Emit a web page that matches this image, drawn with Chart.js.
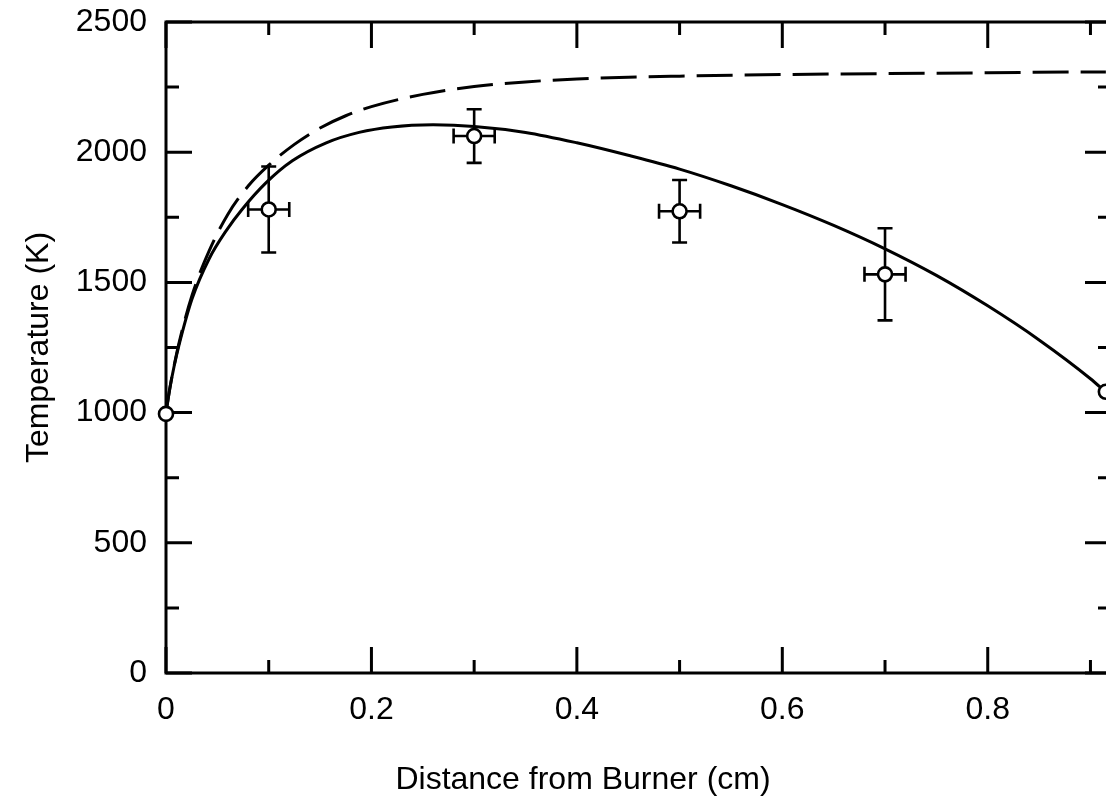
<!DOCTYPE html>
<html><head><meta charset="utf-8">
<script src="https://cdn.jsdelivr.net/npm/chart.js@4.4.1/dist/chart.umd.min.js"></script>
<style>
html,body{margin:0;padding:0;background:#fff;overflow:hidden;}
#wrap{position:relative;width:1125px;height:799px;}
</style></head><body>
<div id="wrap"><canvas id="c"></canvas></div>
<script>
// Measured points (open circles with error bars)
const measDistance = [0, 0.1, 0.3, 0.5, 0.7, 0.915];
const measTemperature = [995, 1780, 2062, 1773, 1531, 1080];
const measTempErr = [0, 165, 103, 120, 177, 0];
const measDistErr = [0, 0.02, 0.02, 0.02, 0.02, 0];

// Solid model curve
const solidX = [0, 0.004, 0.008, 0.0127, 0.0253, 0.0419, 0.0585, 0.074, 0.0975, 0.123, 0.156, 0.188, 0.22, 0.26, 0.3, 0.35, 0.4, 0.45, 0.5, 0.55, 0.6, 0.65, 0.7, 0.75, 0.8, 0.85, 0.9, 0.915];
const solidT = [1000, 1098, 1180, 1260, 1436, 1590, 1698, 1780, 1883, 1967, 2036, 2076, 2097, 2105, 2099, 2076, 2036, 1988, 1935, 1871, 1799, 1719, 1629, 1527, 1410, 1279, 1130, 1078];

// Dashed model curve
const dashedX = [0, 0.004, 0.008, 0.0127, 0.0253, 0.0419, 0.06, 0.08, 0.1, 0.125, 0.15, 0.175, 0.2, 0.25, 0.3, 0.35, 0.4, 0.45, 0.5, 0.6, 0.7, 0.8, 0.9, 0.915];
const dashedT = [1000, 1100, 1182, 1268, 1450, 1620, 1760, 1870, 1950, 2030, 2093, 2140, 2175, 2222, 2252, 2270, 2281, 2288, 2292, 2298, 2302, 2305, 2308, 2308];

// Axes
const xTickValues = [0, 0.2, 0.4, 0.6, 0.8];
const xMinorValues = [0.1, 0.3, 0.5, 0.7, 0.9];
const yTickValues = [0, 500, 1000, 1500, 2000, 2500];
const yMinorValues = [250, 750, 1250, 1750, 2250];
const xMax = 0.92;
const yMax = 2500;
const xTitle = 'Distance from Burner (cm)';
const yTitle = 'Temperature (K)';

const FONT = '"Liberation Sans", Arial, Helvetica, sans-serif';
Chart.defaults.font.family = FONT;
Chart.defaults.font.size = 32;
Chart.defaults.color = '#000';

const toXY = (xs, ys) => xs.map((v, i) => ({x: v, y: ys[i]}));

const frameTicks = {
  id: 'frameTicks',
  beforeDatasetsDraw(chart) {
    const {ctx, chartArea: a, scales: {x, y}} = chart;
    ctx.save();
    ctx.strokeStyle = '#000';
    ctx.lineWidth = 3;
    ctx.strokeRect(a.left, a.top, a.right - a.left, a.bottom - a.top);
    const major = 26, minor = 13;
    ctx.beginPath();
    const xt = (vals, len) => vals.forEach(v => {
      const p = x.getPixelForValue(v);
      ctx.moveTo(p, a.bottom); ctx.lineTo(p, a.bottom - len);
      ctx.moveTo(p, a.top); ctx.lineTo(p, a.top + len);
    });
    const yt = (vals, len) => vals.forEach(v => {
      const p = y.getPixelForValue(v);
      ctx.moveTo(a.left, p); ctx.lineTo(a.left + len, p);
      ctx.moveTo(a.right, p); ctx.lineTo(a.right - len, p);
    });
    xt(xTickValues, major); xt(xMinorValues, minor);
    yt(yTickValues, major); yt(yMinorValues, minor);
    ctx.stroke();
    ctx.restore();
  }
};

const errorBars = {
  id: 'errorBars',
  beforeDatasetDraw(chart, args) {
    if (args.index !== 0) return;
    const {ctx, scales: {x, y}} = chart;
    ctx.save();
    ctx.strokeStyle = '#000';
    ctx.lineWidth = 2.6;
    const cap = 7.5;
    ctx.beginPath();
    measDistance.forEach((d, i) => {
      const px = x.getPixelForValue(d), py = y.getPixelForValue(measTemperature[i]);
      if (measTempErr[i] > 0) {
        const t = y.getPixelForValue(measTemperature[i] + measTempErr[i]);
        const b = y.getPixelForValue(measTemperature[i] - measTempErr[i]);
        ctx.moveTo(px, t); ctx.lineTo(px, b);
        ctx.moveTo(px - cap, t); ctx.lineTo(px + cap, t);
        ctx.moveTo(px - cap, b); ctx.lineTo(px + cap, b);
      }
      if (measDistErr[i] > 0) {
        const l = x.getPixelForValue(d - measDistErr[i]);
        const r = x.getPixelForValue(d + measDistErr[i]);
        ctx.moveTo(l, py); ctx.lineTo(r, py);
        ctx.moveTo(l, py - cap); ctx.lineTo(l, py + cap);
        ctx.moveTo(r, py - cap); ctx.lineTo(r, py + cap);
      }
    });
    ctx.stroke();
    ctx.restore();
  }
};

const xAxisTitle = {
  id: 'xAxisTitle',
  afterDraw(chart) {
    const {ctx, chartArea: a} = chart;
    ctx.save();
    ctx.font = '32px ' + FONT;
    ctx.fillStyle = '#000';
    ctx.textAlign = 'center';
    ctx.textBaseline = 'alphabetic';
    ctx.fillText(xTitle, a.left + 417, 789);
    ctx.restore();
  }
};

new Chart(document.getElementById('c'), {
  type: 'scatter',
  data: {
    datasets: [
      {
        label: 'Measured',
        data: toXY(measDistance, measTemperature),
        showLine: false,
        pointStyle: 'circle',
        pointRadius: 7,
        pointHoverRadius: 7,
        pointBorderWidth: 2.6,
        pointBackgroundColor: '#fff',
        pointBorderColor: '#000',
        clip: false
      },
      {
        label: 'Model (solid)',
        data: toXY(solidX, solidT),
        showLine: true,
        borderColor: '#000',
        borderWidth: 3,
        pointRadius: 0,
        cubicInterpolationMode: 'monotone',
        fill: false
      },
      {
        label: 'Model (dashed)',
        data: toXY(dashedX, dashedT),
        showLine: true,
        borderColor: '#000',
        borderWidth: 3,
        borderDash: [36, 12],
        pointRadius: 0,
        cubicInterpolationMode: 'monotone',
        fill: false
      }
    ]
  },
  options: {
    responsive: true,
    maintainAspectRatio: false,
    animation: false,
    events: [],
    layout: {padding: {top: 22, right: 14, bottom: 0, left: 0}},
    plugins: {legend: {display: false}, tooltip: {enabled: false}, title: {display: false}},
    scales: {
      x: {
        type: 'linear',
        min: 0, max: xMax,
        grid: {display: false, drawTicks: false, tickLength: 0},
        border: {display: false},
        afterBuildTicks: s => { s.ticks = xTickValues.map(v => ({value: v})); },
        afterFit: s => { s.height = 126; s.paddingLeft = 0; s.paddingRight = 0; },
        ticks: {padding: 18, maxRotation: 0, autoSkip: false, font: {size: 32}, callback: v => String(v)}
      },
      y: {
        type: 'linear',
        min: 0, max: yMax,
        grid: {display: false, drawTicks: false, tickLength: 0},
        border: {display: false},
        afterBuildTicks: s => { s.ticks = yTickValues.map(v => ({value: v})); },
        afterFit: s => { s.width = 166; s.paddingTop = 0; s.paddingBottom = 0; },
        ticks: {padding: 19, autoSkip: false, font: {size: 32}, callback: v => String(v)},
        title: {display: true, text: yTitle, font: {size: 32}, padding: {top: 20, bottom: 0}}
      }
    }
  },
  plugins: [frameTicks, errorBars, xAxisTitle]
});
</script>
</body></html>
